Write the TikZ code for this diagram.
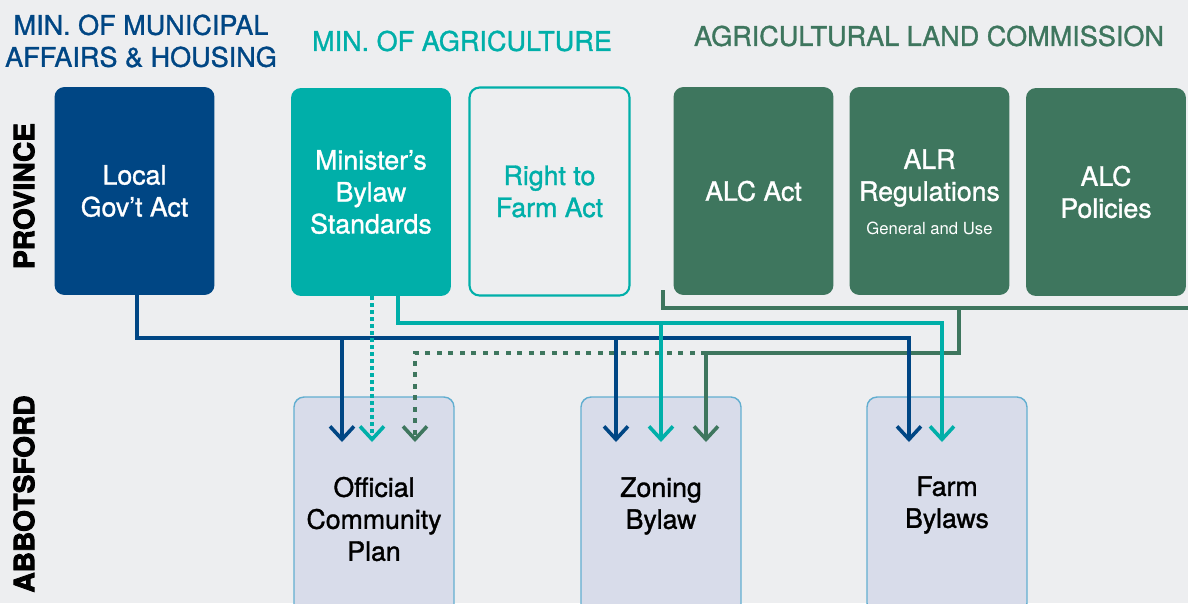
\documentclass[tikz,border=0pt]{standalone}
\usepackage{fontspec}
\setmainfont{TeX Gyre Heros}[FakeBold=1.2]
\newfontfamily\heavyfont{TeX Gyre Heros Bold}[FakeBold=3]
\newfontfamily\lightfont{TeX Gyre Heros}
\usetikzlibrary{arrows.meta}
\definecolor{mahblue}{HTML}{004684}
\definecolor{agteal}{HTML}{00AFA9}
\definecolor{alcgreen}{HTML}{3E765E}
\definecolor{bggray}{HTML}{EDEEF0}
\definecolor{cityfill}{HTML}{D8DCEA}
\definecolor{cityline}{HTML}{62AED0}

\begin{document}
\begin{tikzpicture}[x=0.02cm,y=-0.02cm,
  boxtext/.style={align=center,inner sep=0pt,font=\fontsize{15.2}{18.2}\selectfont},
  provbox/.style={boxtext,rounded corners=0.2cm,minimum width=3.2cm,minimum height=4.16cm},
  citybox/.style={boxtext,rounded corners=0.2cm,minimum width=3.2cm,fill=cityfill,draw=cityline,line width=0.8pt,text=black},
  head/.style={boxtext,font=\fontsize{15.4}{18.2}\selectfont},
  side/.style={inner sep=0pt,rotate=90,font=\fontsize{16}{18}\heavyfont},
  link/.style={line width=0.072cm},
  tip/.style={-{Straight Barb[length=0.26cm,width=0.48cm]}},
  tealdots/.style={dash pattern=on 0.07cm off 0.07cm},
  greendots/.style={dash pattern=on 0.1cm off 0.13cm}
]
\path[use as bounding box,fill=bggray] (0,0) rectangle (1188,603);

% headers and levels
\node[head,text=mahblue] (mahhead) at (141,41) {MIN. OF MUNICIPAL\\AFFAIRS \& HOUSING};
\node[head,text=agteal] (aghead) at (462,41) {MIN. OF AGRICULTURE};
\node[head,text=alcgreen] (alchead) at (929,36) {AGRICULTURAL LAND COMMISSION};
\node[side] (prov) at (24,196) {PROVINCE};
\node[side] (abbot) at (24,494) {ABBOTSFORD};

% province
\node[provbox,fill=mahblue,text=white] (local) at (134.5,191) {Local\\Gov’t Act};
\node[provbox,fill=agteal,text=white] (mbs) at (371,192) {Minister’s\\Bylaw\\Standards};
\node[provbox,draw=agteal,line width=1.2pt,text=agteal] (rtf) at (549.5,191.5) {Right to\\Farm Act};
\node[provbox,fill=alcgreen,text=white] (alcact) at (753.5,191) {ALC Act};
\node[provbox,fill=alcgreen] (alrreg) at (929.5,191) {};
\node[boxtext,text=white] (alrtext) at (929.5,178) {ALR\\Regulations};
\node[inner sep=0pt,text=white,font=\fontsize{9.5}{11}\lightfont] (alrsub) at (929.5,228) {General and Use};
\node[provbox,fill=alcgreen,text=white] (alcpol) at (1106,192) {ALC\\Policies};

% abbotsford
\node[citybox,minimum height=4.88cm] (ocp) at (374,519) {Official\\Community\\Plan};
\node[citybox,minimum height=4.36cm] (zon) at (661,506) {Zoning\\Bylaw};
\node[citybox,minimum height=4.32cm] (farm) at (947,505) {Farm\\Bylaws};

% arrow ends and buses
\coordinate (ocpb) at (342,442);
\coordinate (ocpt) at (372,442);
\coordinate (ocpg) at (415,442);
\coordinate (zonb) at (616,442);
\coordinate (zont) at (661,442);
\coordinate (zong) at (706,442);
\coordinate (farmb) at (909,442);
\coordinate (farmt) at (942,442);
\coordinate (bluebus) at (500,338);
\coordinate (tealbus) at (700,323);
\coordinate (greenbus) at (706,353);
\coordinate (alcstart) at (663,290);
\coordinate (alcend) at (1188,308);
\coordinate (alcdrop) at (959,308);

% ALC
\draw[link,alcgreen] (alcstart) |- (alcend);
\draw[link,alcgreen,tip] (alcdrop) |- (greenbus) -- (zong);
\draw[link,alcgreen,greendots,tip] (greenbus) -| (ocpg);

% local gov't act
\draw[link,mahblue,tip] ([xshift=0.05cm]local.south) |- (bluebus) -| (farmb);
\draw[link,mahblue,tip] (ocpb |- bluebus) -- (ocpb);
\draw[link,mahblue,tip] (zonb |- bluebus) -- (zonb);

% minister's bylaw standards
\draw[link,agteal,tip] ([xshift=0.54cm]mbs.south) |- (tealbus) -| (farmt);
\draw[link,agteal,tip] (zont |- tealbus) -- (zont);
\draw[link,agteal,tealdots,tip] (mbs.south -| ocpt) -- (ocpt);
\end{tikzpicture}
\end{document}
